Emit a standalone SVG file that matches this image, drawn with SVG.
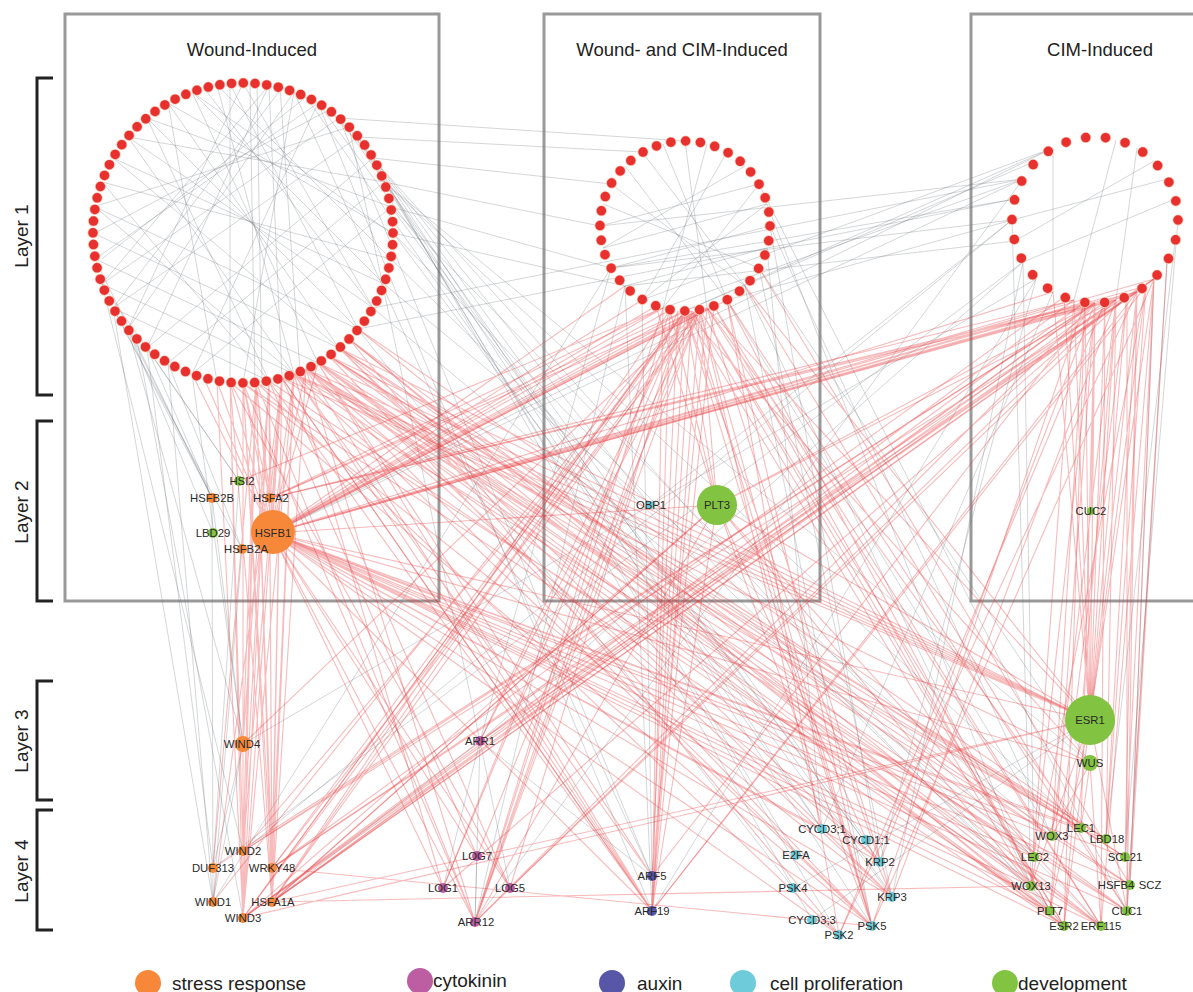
<svg xmlns="http://www.w3.org/2000/svg" width="1193" height="992" viewBox="0 0 1193 992">
<style>
.red{stroke:#e8373a;stroke-opacity:.34;stroke-width:1.1;fill:none}
.gray{stroke:#6f767d;stroke-opacity:.3;stroke-width:1;fill:none}
.box{fill:none;stroke:#999;stroke-width:3}
.brk{fill:none;stroke:#222;stroke-width:3}
.ttl{font-family:"Liberation Sans",Arial,sans-serif;font-size:18.5px;fill:#222;text-anchor:middle}
.lay{font-family:"Liberation Sans",Arial,sans-serif;font-size:19px;fill:#222;text-anchor:middle}
.lbl{font-family:"Liberation Sans",Arial,sans-serif;font-size:11.3px;fill:#2a2a2a;text-anchor:middle;dominant-baseline:central}
.leg{font-family:"Liberation Sans",Arial,sans-serif;font-size:19px;fill:#222}
.ring{fill:none;stroke:#e8302e;stroke-linecap:round}
.halo{fill:none;stroke:#f7c7b4;stroke-linecap:round}
.st{fill:#f7883a}.ck{fill:#bd5ea3}.ax{fill:#5856a6}.cp{fill:#6ecbd9}.dv{fill:#82c341}
</style>
<rect width="1193" height="992" fill="#fff"/>
<g id="frames">
<rect class="box" x="65" y="14" width="374" height="587"/>
<rect class="box" x="544" y="14" width="276" height="587"/>
<rect class="box" x="971" y="14" width="240" height="587"/>
<text class="ttl" x="252" y="56">Wound-Induced</text>
<text class="ttl" x="682" y="56">Wound- and CIM-Induced</text>
<text class="ttl" x="1100" y="56">CIM-Induced</text>
</g>
<g id="layers">
<path class="brk" d="M53 78H37V395H53M53 421H37V601H53M53 681H37V800H53M53 810H37V930H53"/>
<text class="lay" transform="translate(28 236) rotate(-90)">Layer 1</text>
<text class="lay" transform="translate(28 512) rotate(-90)">Layer 2</text>
<text class="lay" transform="translate(28 741) rotate(-90)">Layer 3</text>
<text class="lay" transform="translate(28 871) rotate(-90)">Layer 4</text>
</g>
<g id="connectors">
<path class="gray" d="M250 83L255 383M257 84L262 382M269 85L282 378M217 85L294 374M192 92L318 363M168 103L339 348M147 118L358 329M128 137L373 308M113 158L384 284M102 182L391 259M95 207L358 329M93 233L339 348M95 259L318 363M102 284L294 374M113 308L269 381M128 137L294 374M147 118L269 381M168 103L217 381M339 118L102 284M358 137L113 308M318 103L95 259M294 92L128 329M373 158L147 348M384 182L168 363M391 207L192 374M269 85L147 348M217 85L391 259M192 92L384 284M243 83L373 308M168 103L393 233M230 84L230 382M280 87L300 372"/>
<path class="gray" d="M204 88L373 308M282 88L113 308M306 97L102 259M329 110L95 233M349 127L93 207M243 83L128 329M230 84L358 329M294 92L243 383M318 103L192 374M269 85L102 284M192 92L391 233M147 118L391 207M128 137L384 182M113 158L339 348M95 207L294 374M102 182L269 381M349 127L872 926M339 118L893 897M329 110L1064 926M358 137L839 935M373 158L812 920M384 182L1081 828M318 103L880 862M306 97L822 829M294 92L652 876M391 207L1101 926"/>
<path class="gray" d="M113 308L212 498M128 329L212 498M102 284L239 481M147 348L239 481M128 329L213 533M113 308L242 549M147 348L212 498M168 363L242 549M128 329L243 744M113 308L213 902M147 348L213 868M102 284L243 851M168 363L213 902M192 374L243 744M137 339L243 918M95 259L212 498M212 498L213 902M212 498L243 744M239 481L213 868M242 549L213 902M243 744L213 902M243 744L213 868"/>
<path class="gray" d="M373 158L650 505M358 137L822 829M373 158L866 840M384 182L796 855M391 207L880 862M393 233L892 897M391 259L1031 886M384 284L1052 836M373 308L1034 857M358 329L793 888M339 118L652 876M318 103L652 911M349 127L480 741M393 233L1050 911M384 182L1090 763M373 158L611 184M384 182L600 226M391 207L611 268M358 137L642 152M393 233L625 286M339 118L685 141M1012 220L650 505M1023 179L272 533M1023 262L480 741M1036 279L243 744M1053 148L685 311M1012 220L611 268M1023 179L600 226M1053 148L642 300M1023 262L213 868M1012 220L243 851M1053 148L272 533M1036 279L652 911M1023 179L475 922M1015 199L611 268M1023 179L663 308M1036 161L685 311M1012 220L727 300M1015 241L625 286M1015 199L358 329M1023 179L373 308"/>
<path class="gray" d="M603 248L767 204M600 226L759 184M611 268L770 226M625 286L767 248M642 152L745 286M663 144L727 300M685 141L707 308M707 144L663 308M727 152L642 300M603 204L759 268M611 184L745 286M625 166L727 300M642 300L767 204M663 308L759 184M603 248L745 166M1053 148L1053 292M1137 148L1116 300M1116 140L1074 300M1012 220L1167 179M1023 262L1175 199M1015 241L1154 161M642 300L652 876M625 286L652 911M611 268L480 741M625 286L475 922M745 286L872 926M759 268L892 897M770 226L880 862M767 248L822 829M745 286L1031 886M759 268L1090 763M727 300L1052 836M611 268L213 902M767 204L1031 886M770 226L1052 836M759 184L1127 911M1154 279L1130 885M1167 262L1127 911M1178 220L1125 857M1175 241L1106 839M1023 262L892 897M1036 279L880 862M1053 292L822 829M1023 262L1034 857M1012 220L1031 886M480 741L272 902M480 741L475 922M480 741L443 888M480 741L510 888M480 741L652 876M477 856L475 922M1090 720L793 888M1090 720L812 920"/>
<path class="red" d="M230 382L243 918M243 383L243 918M256 382L243 918M269 381L243 918M282 378L243 918M294 374L243 918M217 381L243 918M230 382L272 902M243 383L272 902M256 382L272 902M269 381L272 902M282 378L272 902M294 374L272 902M306 369L272 902M243 383L272 868M256 382L272 868M269 381L272 868M282 378L272 868M294 374L272 868M230 382L243 851M256 382L243 851M269 381L243 851M282 378L243 851M243 383L243 744M256 382L243 744M269 381L243 744M282 378L213 902M256 382L213 868M272 533L217 381M272 533L230 382M272 533L243 383M272 533L256 382M272 533L269 381M272 533L282 378M272 533L294 374M272 533L306 369M272 533L318 363M272 533L192 374M272 533L204 378M270 498L243 383M270 498L282 378M270 498L256 382"/>
<path class="red" d="M272 533L642 300M272 533L656 306M272 533L670 310M272 533L685 311M272 533L700 310M272 533L707 308M272 533L727 300M272 533L625 286M272 533L1053 292M272 533L1074 300M272 533L1095 303M272 533L1116 300M272 533L1137 292M272 533L1154 279M270 498L685 311M270 498L1095 303M270 498L1137 292M239 481L663 308M272 533L717 505M272 533L1090 720M272 533L1081 828M272 533L1064 926M272 533L1101 926M272 533L1050 911M272 533L872 926M272 533L652 911M272 533L475 922M272 533L1034 857M272 533L1031 886M272 533L1106 839M272 533L1125 857"/>
<path class="red" d="M272 533L663 308M272 533L692 311M272 533L714 306M272 533L1085 302M272 533L1105 302M272 533L1127 296M272 533L1146 286M272 533L880 862M272 533L892 897M272 533L839 935M272 533L822 829M272 533L510 888M272 533L443 888M272 533L477 856M272 533L1127 911M272 533L1052 836M272 533L1130 885M272 533L1090 763M270 498L700 310M270 498L663 308M270 498L1116 300M270 498L1074 300"/>
<path class="red" d="M685 311L243 918M700 310L243 918M670 310L272 902M685 311L272 902M707 308L272 868M685 311L475 922M700 310L475 922M670 310L475 922M685 311L510 888M685 311L443 888M700 310L477 856M685 311L652 911M700 310L652 911M707 308L652 876M670 310L652 911M685 311L872 926M700 310L872 926M707 308L892 897M727 300L872 926M685 311L880 862M700 310L822 829M700 310L1064 926M707 308L1101 926M727 300L1050 911M685 311L1031 886M700 310L1034 857M727 300L1127 911M707 308L1090 720M685 311L1090 763M700 310L717 505M685 311L717 505M670 310L717 505M656 306L717 505M685 311L480 741M700 310L243 744"/>
<path class="red" d="M692 311L475 922M692 311L652 911M692 311L872 926M692 311L1064 926M714 306L1101 926M714 306L652 911M678 311L443 888M678 311L652 876M663 308L652 911M663 308L475 922M714 306L1050 911M745 286L1127 911M745 286L1090 720M759 268L1130 885M727 300L839 935M707 308L1081 828M272 902L700 310M243 918L685 311M272 868L685 311M243 851L700 310M272 902L1137 292M243 918L1095 303M272 868L1116 300M243 851L1154 279M213 902L685 311M272 902L717 505M213 868L1095 303"/>
<path class="red" d="M1074 300L1090 720M1095 303L1090 720M1116 300L1090 720M1137 292L1090 720M1154 279L1090 720M1053 292L1090 720M1095 303L1081 828M1116 300L1106 839M1137 292L1125 857M1154 279L1130 885M1137 292L1127 911M1154 279L1101 926M1116 300L1064 926M1095 303L1050 911M1074 300L1031 886M1095 303L1034 857M1116 300L1052 836M1167 262L1130 885M1167 262L1127 911M1154 279L1125 857M1137 292L1106 839M1095 303L272 902M1116 300L243 918M1137 292L272 868M1154 279L272 902M1095 303L243 851M1074 300L243 918M1095 303L475 922M1116 300L510 888M1137 292L652 911M1095 303L652 876M1154 279L872 926M1116 300L892 897M1095 303L880 862M1137 292L839 935M1074 300L480 741M1116 300L443 888M1095 303L717 505M1116 300L717 505M1095 303L1091 511"/>
<path class="red" d="M1085 302L1090 720M1105 302L1090 720M1127 296L1090 720M1146 286L1090 720M1064 297L1090 720M1085 302L1064 926M1105 302L1101 926M1127 296L1127 911M1146 286L1106 839M1085 302L243 918M1105 302L272 902M1127 296L475 922M1146 286L652 911M1064 297L272 868M1085 302L872 926M1105 302L839 935M1127 296L1050 911M1146 286L1031 886M1085 302L1052 836"/>
<path class="red" d="M318 363L1064 926M329 356L1101 926M339 348L1050 911M349 339L1031 886M306 369L1034 857M294 374L1081 828M318 363L1127 911M329 356L872 926M339 348L892 897M306 369L880 862M318 363L652 911M294 374L652 876M306 369L475 922M282 378L510 888M294 374L443 888M318 363L1090 720M339 348L1090 720M329 356L1106 839M349 339L839 935M652 911L294 374M652 911L306 369M652 911L282 378M652 876L318 363M872 926L294 374M872 926L306 369M892 897L318 363M880 862L339 348M1064 926L306 369M1101 926L318 363M1050 911L294 374M1031 886L306 369M1081 828L339 348M1127 911L349 339M1106 839L358 329M1125 857L339 348M1034 857L318 363M1052 836L329 356M1130 885L306 369"/>
<path class="red" d="M243 383L1064 926M256 382L1101 926M269 381L1050 911M282 378L1127 911M230 382L872 926M243 383L892 897M256 382L839 935M269 381L652 911M282 378L652 911M243 383L475 922M256 382L475 922M230 382L510 888M269 381L477 856M282 378L1090 720M294 374L1090 763M306 369L1081 828M318 363L1106 839M329 356L1125 857M339 348L1130 885M349 339L1064 926M358 329L1101 926M306 369L1090 720M294 374L1090 720M329 356L1090 720"/>
<path class="red" d="M717 505L652 911M717 505L475 922M717 505L872 926M717 505L1064 926M717 505L243 918M717 505L272 902M717 505L1090 720M717 505L1101 926M717 505L892 897M272 902L1090 720M243 918L1090 720M272 868L872 926M272 902L1031 886M480 741L1137 292M480 741L1154 279M480 741L700 310M1090 763L1081 828M1090 763L1052 836M1090 763L1101 926M1090 720L1064 926M1090 720L1031 886M1090 720L1050 911M1090 720L1127 911"/>
</g>
<g id="cluster-wound">
<circle class="halo" cx="243" cy="233" r="150" stroke-width="11" stroke-dasharray="0 11.781"/>
<circle class="ring" cx="243" cy="233" r="150" stroke-width="9.5" stroke-dasharray="0 11.781"/>
</g>
<g id="cluster-wound-cim">
<circle class="halo" cx="685" cy="226" r="85" stroke-width="11" stroke-dasharray="0 14.835"/>
<circle class="ring" cx="685" cy="226" r="85" stroke-width="9.5" stroke-dasharray="0 14.835"/>
</g>
<g id="cluster-cim">
<circle class="halo" cx="1095" cy="220" r="83" stroke-width="11" stroke-dasharray="0 20.058"/>
<circle class="ring" cx="1095" cy="220" r="83" stroke-width="9.5" stroke-dasharray="0 20.058"/>
</g>
<g id="n-HSI2"><circle class="dv" cx="239" cy="481" r="5"/><text class="lbl" x="242" y="481">HSI2</text></g>
<g id="n-HSFB2B"><circle class="st" cx="212" cy="498" r="5"/><text class="lbl" x="212" y="498">HSFB2B</text></g>
<g id="n-HSFA2"><circle class="st" cx="270" cy="498" r="5"/><text class="lbl" x="271" y="498">HSFA2</text></g>
<g id="n-LBD29"><circle class="dv" cx="213" cy="533" r="5"/><text class="lbl" x="213" y="533">LBD29</text></g>
<g id="n-HSFB1"><circle class="st" cx="273" cy="532" r="22"/><text class="lbl" x="273" y="533">HSFB1</text></g>
<g id="n-HSFB2A"><circle class="st" cx="242" cy="549" r="5"/><text class="lbl" x="246" y="549">HSFB2A</text></g>
<g id="n-OBP1"><circle class="cp" cx="650" cy="505" r="4"/><text class="lbl" x="651" y="505">OBP1</text></g>
<g id="n-PLT3"><circle class="dv" cx="717" cy="505" r="20"/><text class="lbl" x="717" y="505">PLT3</text></g>
<g id="n-CUC2"><circle class="dv" cx="1091" cy="511" r="4"/><text class="lbl" x="1091" y="511">CUC2</text></g>
<g id="n-WIND4"><circle class="st" cx="243" cy="744" r="8"/><text class="lbl" x="242" y="744">WIND4</text></g>
<g id="n-ARR1"><circle class="ck" cx="480" cy="741" r="5"/><text class="lbl" x="480" y="741">ARR1</text></g>
<g id="n-ESR1"><circle class="dv" cx="1090" cy="720" r="25"/><text class="lbl" x="1090" y="720">ESR1</text></g>
<g id="n-WUS"><circle class="dv" cx="1090" cy="763" r="8"/><text class="lbl" x="1090" y="763">WUS</text></g>
<g id="n-WIND2"><circle class="st" cx="243" cy="851" r="5"/><text class="lbl" x="243" y="851">WIND2</text></g>
<g id="n-DUF313"><circle class="st" cx="213" cy="868" r="5"/><text class="lbl" x="213" y="868">DUF313</text></g>
<g id="n-WRKY48"><circle class="st" cx="272" cy="868" r="5"/><text class="lbl" x="272" y="868">WRKY48</text></g>
<g id="n-WIND1"><circle class="st" cx="213" cy="902" r="5"/><text class="lbl" x="213" y="902">WIND1</text></g>
<g id="n-HSFA1A"><circle class="st" cx="272" cy="902" r="5"/><text class="lbl" x="273" y="902">HSFA1A</text></g>
<g id="n-WIND3"><circle class="st" cx="243" cy="918" r="5"/><text class="lbl" x="243" y="918">WIND3</text></g>
<g id="n-LOG7"><circle class="ck" cx="477" cy="856" r="5"/><text class="lbl" x="477" y="856">LOG7</text></g>
<g id="n-LOG1"><circle class="ck" cx="443" cy="888" r="5"/><text class="lbl" x="443" y="888">LOG1</text></g>
<g id="n-LOG5"><circle class="ck" cx="510" cy="888" r="5"/><text class="lbl" x="510" y="888">LOG5</text></g>
<g id="n-ARR12"><circle class="ck" cx="475" cy="922" r="5"/><text class="lbl" x="476" y="922">ARR12</text></g>
<g id="n-ARF5"><circle class="ax" cx="652" cy="876" r="5"/><text class="lbl" x="652" y="876">ARF5</text></g>
<g id="n-ARF19"><circle class="ax" cx="652" cy="911" r="5"/><text class="lbl" x="652" y="911">ARF19</text></g>
<g id="n-CYCD3_1"><circle class="cp" cx="822" cy="829" r="5"/><text class="lbl" x="822" y="829">CYCD3;1</text></g>
<g id="n-CYCD1_1"><circle class="cp" cx="866" cy="840" r="5"/><text class="lbl" x="866" y="840">CYCD1;1</text></g>
<g id="n-E2FA"><circle class="cp" cx="796" cy="855" r="5"/><text class="lbl" x="796" y="855">E2FA</text></g>
<g id="n-KRP2"><circle class="cp" cx="880" cy="862" r="5"/><text class="lbl" x="880" y="862">KRP2</text></g>
<g id="n-PSK4"><circle class="cp" cx="793" cy="888" r="5"/><text class="lbl" x="793" y="888">PSK4</text></g>
<g id="n-KRP3"><circle class="cp" cx="892" cy="897" r="5"/><text class="lbl" x="892" y="897">KRP3</text></g>
<g id="n-CYCD3_3"><circle class="cp" cx="812" cy="920" r="5"/><text class="lbl" x="812" y="920">CYCD3;3</text></g>
<g id="n-PSK2"><circle class="cp" cx="839" cy="935" r="5"/><text class="lbl" x="839" y="935">PSK2</text></g>
<g id="n-PSK5"><circle class="cp" cx="872" cy="926" r="5"/><text class="lbl" x="872" y="926">PSK5</text></g>
<g id="n-LEC1"><circle class="dv" cx="1081" cy="828" r="5"/><text class="lbl" x="1081" y="828">LEC1</text></g>
<g id="n-WOX3"><circle class="dv" cx="1052" cy="836" r="5"/><text class="lbl" x="1052" y="836">WOX3</text></g>
<g id="n-LBD18"><circle class="dv" cx="1106" cy="839" r="5"/><text class="lbl" x="1107" y="839">LBD18</text></g>
<g id="n-LEC2"><circle class="dv" cx="1034" cy="857" r="5"/><text class="lbl" x="1035" y="857">LEC2</text></g>
<g id="n-SCL21"><circle class="dv" cx="1125" cy="857" r="5"/><text class="lbl" x="1125" y="857">SCL21</text></g>
<g id="n-WOX13"><circle class="dv" cx="1031" cy="886" r="5"/><text class="lbl" x="1031" y="886">WOX13</text></g>
<g id="n-HSFB4"><circle class="dv" cx="1130" cy="885" r="5"/><text class="lbl" x="1116" y="885">HSFB4</text></g>
<g id="n-SCZ"><text class="lbl" x="1150" y="885">SCZ</text></g>
<g id="n-PLT7"><circle class="dv" cx="1050" cy="911" r="5"/><text class="lbl" x="1050" y="911">PLT7</text></g>
<g id="n-CUC1"><circle class="dv" cx="1127" cy="911" r="5"/><text class="lbl" x="1127" y="911">CUC1</text></g>
<g id="n-ESR2"><circle class="dv" cx="1064" cy="926" r="5"/><text class="lbl" x="1064" y="926">ESR2</text></g>
<g id="n-ERF115"><circle class="dv" cx="1101" cy="926" r="5"/><text class="lbl" x="1101" y="926">ERF115</text></g>
<g id="legend">
<circle class="st" cx="148" cy="983" r="13"/><text class="leg" x="172" y="990">stress response</text>
<circle class="ck" cx="420" cy="981" r="13"/><text class="leg" x="433" y="987">cytokinin</text>
<circle class="ax" cx="612" cy="983" r="13"/><text class="leg" x="637" y="990">auxin</text>
<circle class="cp" cx="743" cy="983" r="13"/><text class="leg" x="770" y="990">cell proliferation</text>
<circle class="dv" cx="1005" cy="983" r="13"/><text class="leg" x="1018" y="990">development</text>
</g>
</svg>
